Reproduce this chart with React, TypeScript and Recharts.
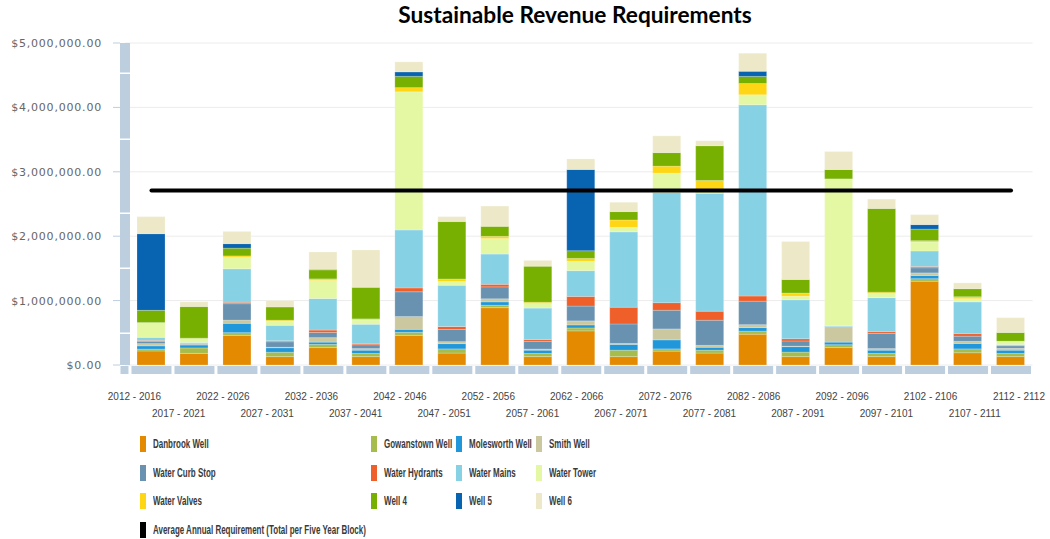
import React from "react";
import { Bar, CartesianGrid, ComposedChart, Line, XAxis, YAxis } from "recharts";

const periods = [
  "2012 - 2016", "2017 - 2021", "2022 - 2026", "2027 - 2031", "2032 - 2036", "2037 - 2041", "2042 - 2046",
  "2047 - 2051", "2052 - 2056", "2057 - 2061", "2062 - 2066", "2067 - 2071", "2072 - 2076", "2077 - 2081",
  "2082 - 2086", "2087 - 2091", "2092 - 2096", "2097 - 2101", "2102 - 2106", "2107 - 2111", "2112 - 2112",
];

const danbrookWell = [217000, 180000, 460000, 130000, 270000, 130000, 460000, 185000, 890000, 130000, 530000, 130000, 215000, 185000, 478000, 130000, 270000, 130000, 1300000, 190000, 130000];
const gowanstownWell = [30000, 85000, 42000, 68000, 50000, 50000, 47000, 65000, 38000, 50000, 45000, 100000, 35000, 45000, 48000, 70000, 45000, 50000, 40000, 60000, 50000];
const molesworthWell = [50000, 45000, 145000, 70000, 35000, 50000, 47000, 82000, 52000, 50000, 47000, 90000, 140000, 45000, 55000, 85000, 40000, 50000, 50000, 85000, 50000];
const smithWell = [35000, 8000, 50000, 8000, 70000, 25000, 198000, 30000, 48000, 18000, 63000, 15000, 170000, 30000, 45000, 8000, 240000, 25000, 40000, 32000, 30000];
const waterCurbStop = [35000, 12000, 255000, 85000, 80000, 58000, 385000, 190000, 185000, 120000, 230000, 302000, 290000, 390000, 365000, 80000, 0, 235000, 80000, 80000, 38000];
const waterHydrants = [15000, 0, 22000, 15000, 37000, 15000, 60000, 45000, 40000, 28000, 150000, 260000, 118000, 140000, 80000, 35000, 0, 28000, 20000, 40000, 0];
const waterMains = [47000, 20000, 520000, 240000, 490000, 305000, 900000, 640000, 470000, 488000, 400000, 1170000, 1710000, 1830000, 2970000, 605000, 15000, 528000, 240000, 493000, 20000];
const waterTower = [230000, 67000, 175000, 65000, 280000, 68000, 2145000, 60000, 240000, 70000, 145000, 70000, 300000, 60000, 155000, 55000, 2280000, 65000, 140000, 50000, 52000];
const waterValves = [0, 0, 25000, 15000, 25000, 15000, 65000, 40000, 35000, 20000, 45000, 115000, 110000, 140000, 175000, 50000, 0, 20000, 20000, 30000, 0];
const well4 = [190000, 490000, 120000, 205000, 140000, 490000, 175000, 890000, 155000, 560000, 120000, 130000, 210000, 540000, 110000, 210000, 145000, 1300000, 180000, 125000, 135000];
const well5 = [1190000, 0, 70000, 0, 8000, 0, 70000, 0, 0, 0, 1260000, 0, 0, 0, 80000, 0, 0, 0, 70000, 0, 0];
const well6 = [265000, 75000, 190000, 100000, 270000, 580000, 155000, 77000, 315000, 90000, 165000, 145000, 260000, 77000, 280000, 590000, 280000, 145000, 155000, 90000, 230000];
const averageRequirement = [2710000, 2710000, 2710000, 2710000, 2710000, 2710000, 2710000, 2710000, 2710000, 2710000, 2710000, 2710000, 2710000, 2710000, 2710000, 2710000, 2710000, 2710000, 2710000, 2710000, 2710000];

const yTicks = [0, 1000000, 2000000, 3000000, 4000000, 5000000];

const series = [
  { key: "danbrook", label: "Danbrook Well", color: "#E38A00", values: danbrookWell },
  { key: "gowanstown", label: "Gowanstown Well", color: "#A6BD4E", values: gowanstownWell },
  { key: "molesworth", label: "Molesworth Well", color: "#1F97DA", values: molesworthWell },
  { key: "smith", label: "Smith Well", color: "#CBC89F", values: smithWell },
  { key: "curbStop", label: "Water Curb Stop", color: "#6892B0", values: waterCurbStop },
  { key: "hydrants", label: "Water Hydrants", color: "#EE5F2A", values: waterHydrants },
  { key: "mains", label: "Water Mains", color: "#87D1E5", values: waterMains },
  { key: "tower", label: "Water Tower", color: "#E4F8A3", values: waterTower },
  { key: "valves", label: "Water Valves", color: "#FFD614", values: waterValves },
  { key: "well4", label: "Well 4", color: "#77B000", values: well4 },
  { key: "well5", label: "Well 5", color: "#0863B0", values: well5 },
  { key: "well6", label: "Well 6", color: "#EDE9C8", values: well6 },
];

const AVG_LABEL = "Average Annual Requirement (Total per Five Year Block)";
const BAND = "#BDCEDF";

const data = periods.map((period, i) => {
  const row: Record<string, any> = { period, average: averageRequirement[i] };
  series.forEach((s) => {
    row[s.key] = s.values[i];
  });
  return row;
});

const formatMoney = (v: number) =>
  "$" + v.toLocaleString("en-US", { minimumFractionDigits: 2, maximumFractionDigits: 2 });

const MoneyTick = (props: any) => {
  const { x, y, payload } = props;
  return (
    <g>
      <line x1={x - 12} x2={x - 5} y1={y} y2={y} stroke={BAND} strokeWidth={1} />
      <text
        x={x - 23}
        y={y}
        dy={4}
        textAnchor="end"
        fill="#666"
        style={{ fontFamily: "DejaVu Sans", fontSize: 11, letterSpacing: 0.8 }}
      >
        {formatMoney(payload.value)}
      </text>
    </g>
  );
};

// labels sit a bit left of the bars and drift right slightly across the axis
const PeriodTick = (props: any) => {
  const { x, y, payload } = props;
  const index = periods.indexOf(payload.value);
  const lower = index % 2 === 1;
  return (
    <g>
      {index === 0 ? <rect x={x - 31} y={y + 1} width={8} height={8} fill={BAND} /> : null}
      <rect x={x - 20} y={y + 1} width={40} height={8} fill={BAND} />
      <text
        x={x - 17 + index * 1.25}
        y={y + (lower ? 52 : 35)}
        textAnchor="middle"
        fill="#444"
        style={{ fontFamily: "Liberation Sans", fontSize: 10 }}
      >
        {payload.value}
      </text>
    </g>
  );
};

const LegendBlock = () => {
  const items = [...series.map((s) => ({ label: s.label, color: s.color })), { label: AVG_LABEL, color: "#000" }];
  return (
    <div
      style={{
        position: "absolute",
        left: 140,
        top: 430,
        display: "grid",
        gridTemplateColumns: "231px 85px 80px 200px",
        gridAutoRows: "28.5px",
        fontFamily: "'Liberation Sans', sans-serif",
        fontWeight: "bold",
        fontSize: 12,
        color: "#3a3a3a",
      }}
    >
      {items.map((it) => (
        <div key={it.label} style={{ display: "flex", alignItems: "center", whiteSpace: "nowrap" }}>
          <span style={{ width: 6, height: 16, backgroundColor: it.color, marginRight: 7, flex: "none" }} />
          <span style={{ display: "inline-block", transform: "scaleX(0.665)", transformOrigin: "left center" }}>
            {it.label}
          </span>
        </div>
      ))}
    </div>
  );
};

export default function App() {
  return (
    <div
      style={{
        position: "absolute",
        left: 0,
        top: 0,
        width: 1050,
        height: 539,
        background: "#fff",
        overflow: "hidden",
      }}
    >
      <div
        style={{
          position: "absolute",
          left: 100,
          top: 1,
          width: 950,
          textAlign: "center",
          fontFamily: "Lato",
          fontWeight: "bold",
          fontSize: 22.7,
          color: "#000",
        }}
      >
        Sustainable Revenue Requirements
      </div>
      <ComposedChart
        width={1050}
        height={430}
        data={data}
        margin={{ top: 43, right: 17.5, left: 0, bottom: 0 }}
      >
        <CartesianGrid vertical={false} stroke="#ececec" />
        <XAxis
          dataKey="period"
          interval={0}
          height={65}
          axisLine={false}
          tickLine={false}
          tickSize={0}
          tickMargin={0}
          padding={{ left: 5, right: 0 }}
          tick={<PeriodTick />}
        />
        <YAxis
          width={125}
          domain={[0, 5000000]}
          ticks={yTicks}
          interval={0}
          tickLine={false}
          tickSize={0}
          tickMargin={0}
          axisLine={{ stroke: BAND, strokeWidth: 10, strokeDasharray: "29.5 1.5 64.5 1.5 72.5 1.5 53.5 1.5 63.5 1.5 31" }}
          tick={<MoneyTick />}
        />
        {series.map((s) => (
          <Bar
            key={s.key}
            dataKey={s.key}
            name={s.label}
            stackId="total"
            fill={s.color}
            barSize={28}
            stroke="rgba(255,255,255,0.35)"
            strokeWidth={0.6}
            isAnimationActive={false}
          />
        ))}
        <Line
          dataKey="average"
          name={AVG_LABEL}
          type="linear"
          stroke="#000"
          strokeWidth={4}
          strokeLinecap="round"
          dot={false}
          activeDot={false}
          isAnimationActive={false}
        />
      </ComposedChart>
      <LegendBlock />
    </div>
  );
}
